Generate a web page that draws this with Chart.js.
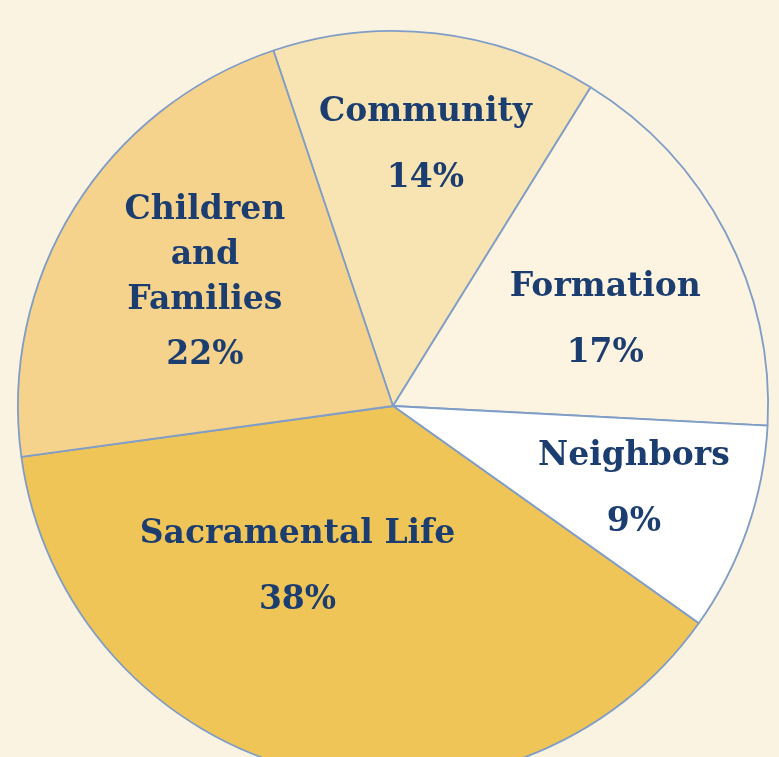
<!DOCTYPE html>
<html>
<head>
<meta charset="utf-8">
<script src="https://cdn.jsdelivr.net/npm/chart.js@4/dist/chart.umd.min.js"></script>
<style>
  html, body { margin: 0; padding: 0; background: #FBF3E2; overflow: hidden; }
  body { width: 779px; height: 757px; position: relative; }
  #wrap { position: absolute; left: 0; top: 0; width: 779px; height: 800px; }
</style>
</head>
<body>
<div id="wrap"><canvas id="pie"></canvas></div>
<script>
// DADOS
const categorias = ['Community', 'Formation', 'Neighbors', 'Sacramental Life', 'Children and Families'];
const valores = [14, 17, 9, 38, 22];
const rotulos = [['Community'], ['Formation'], ['Neighbors'], ['Sacramental Life'], ['Children', 'and', 'Families']];
const cores = ['#F8E4B2', '#FCF3E0', '#FFFFFF', '#F0C558', '#F5D38C'];

// posição dos rótulos: fração do raio e desvio de ângulo (graus)
const posRotulos = [
    { r: 0.70, da: 0.5 },
    { r: 0.61, da: 5.7 },
    { r: 0.68, da: 0 },
    { r: 0.50, da: 16.8 },
    { r: 0.60, da: 1.5 }
];

const rotulosPlugin = {
    id: 'rotulos',
    afterDatasetsDraw(chart) {
        const ctx = chart.ctx;
        const meta = chart.getDatasetMeta(0);
        ctx.save();
        ctx.fillStyle = '#1B3D6F';
        ctx.textAlign = 'center';
        ctx.textBaseline = 'middle';
        ctx.font = 'bold 33px "DejaVu Serif"';
        meta.data.forEach((arc, i) => {
            const p = arc.getProps(['x', 'y', 'startAngle', 'endAngle', 'outerRadius'], true);
            const ang = (p.startAngle + p.endAngle) / 2 + posRotulos[i].da * Math.PI / 180;
            const rr = p.outerRadius * posRotulos[i].r;
            const cx = p.x + Math.cos(ang) * rr;
            const cy = p.y + Math.sin(ang) * rr;
            const linhas = rotulos[i];
            const gap = linhas.length > 1 ? 55 : 66;
            const altura = (linhas.length - 1) * 45 + gap;
            let y = cy - altura / 2;
            linhas.forEach(l => { ctx.fillText(l, cx, y); y += 45; });
            y = y - 45 + gap;
            ctx.fillText(valores[i] + '%', cx, y);
        });
        ctx.restore();
    }
};

new Chart(document.getElementById('pie').getContext('2d'), {
    type: 'pie',
    data: {
        labels: categorias,
        datasets: [{
            data: valores,
            backgroundColor: cores,
            borderColor: '#7F9DC6',
            borderWidth: 1.8
        }]
    },
    options: {
        responsive: true,
        maintainAspectRatio: false,
        animation: false,
        rotation: -18.6,
        layout: { padding: { left: 17, right: 10, top: 30, bottom: 18 } },
        plugins: { legend: { display: false }, tooltip: { enabled: false } }
    },
    plugins: [rotulosPlugin]
});
</script>
</body>
</html>
